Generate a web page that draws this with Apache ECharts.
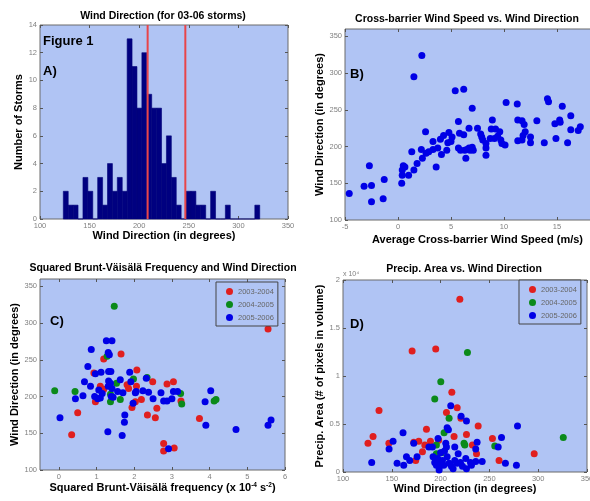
<!DOCTYPE html>
<html>
<head>
<meta charset="utf-8">
<script src="https://cdn.jsdelivr.net/npm/echarts@6/dist/echarts.min.js"></script>
<style>
  html, body { margin: 0; padding: 0; background: #fff; }
  #chart { width: 590px; height: 501px; }
</style>
</head>
<body>
<div id="chart"></div>
<script>
// A) histogram of wind direction, 5-degree bins
const histStart = 123.5
const histWidth = 4.95
const histCounts = [2,1,1,0,3,2,0,3,1,4,2,3,2,13,11,8,12,9,8,8,4,6,3,1,0,2,2,1,1,0,2,0,0,1,0,0,0,0,0,1]
const redLines = [208.5, 246.5]

// B) cross-barrier wind speed (m/s) vs wind direction (deg)
const speedDir = [
  [-4.6,136],[-3.2,146],[-2.5,147],[-2.7,174],[-2.5,125],[-1.3,155],[-1.4,129],
  [0.35,150],[0.4,161],[0.4,168],[0.5,174],[0.65,172],[1.0,161],[1.5,168],[1.3,193],[1.8,177],
  [1.5,295],[2.25,324],[2.3,184],[2.2,196],[2.6,220],[2.65,191],[2.9,193],[3.3,196],[3.3,207],
  [3.6,172],[3.75,198],[4.1,189],[4.0,210],[4.3,215],[4.6,195],[4.7,205],[4.8,219],[5.1,213],
  [5.0,207],[5.4,276],[6.2,278],[5.7,234],[5.8,218],[6.2,216],[5.7,198],[5.9,195],[6.3,195],
  [6.4,184],[6.7,198],[6.7,225],[7.0,252],[6.5,196],[6.8,195],[7.0,199],[7.1,195],[7.5,225],
  [7.8,217],[7.9,213],[8.0,209],[8.3,204],[8.3,198],[8.3,188],[8.7,211],[8.8,224],[8.9,236],
  [9.1,211],[9.2,224],[9.4,214],[9.6,220],[9.7,209],[9.8,204],[10.1,202],[10.2,260],[11.25,258],
  [11.3,208],[11.3,236],[11.7,235],[11.9,230],[12.0,220],[11.8,215],[11.7,209],[12.5,213],
  [12.5,205],[13.1,235],[13.8,205],[14.1,265],[14.2,261],[14.8,231],[14.9,211],[15.25,236],
  [15.3,233],[15.5,255],[16.0,205],[16.3,242],[16.3,223],[17.0,222],[17.2,227]
]

// C) squared Brunt-Vaisala frequency (x1e-4 s^-2) vs wind direction, by season
const bvRed = [
  [0.34,148],[0.5,178],[1.19,251],[1.65,258],[0.93,232],[1.1,214],[1.19,210],[0.97,193],
  [1.81,216],[1.85,211],[2.07,236],[2.06,214],[2.03,193],[1.94,185],[2.19,196],[2.49,220],
  [2.35,175],[2.56,171],[2.6,184],[2.78,136],[2.78,126],[2.87,217],[3.04,220],[3.24,194],
  [3.73,170],[5.55,292],[3.06,130]
]
const bvGreen = [
  [1.47,323],[-0.11,208],[0.43,207],[1.28,255],[1.37,203],[1.37,193],[1.63,196],[1.53,218],
  [1.98,224],[2.34,226],[3.23,204],[3.26,190],[4.12,194],[4.17,196]
]
const bvBlue = [
  [0.03,171],[0.44,197],[0.64,201],[0.68,220],[0.77,241],[0.86,264],[0.84,214],[0.97,231],
  [1.06,209],[1.03,197],[1.1,198],[1.12,233],[1.26,276],[1.41,276],[1.31,260],[1.34,257],
  [1.32,234],[1.38,234],[1.32,221],[1.37,218],[1.31,214],[1.41,211],[1.39,200],[1.44,199],
  [1.30,152],[1.56,207],[1.70,205],[1.63,223],[1.68,147],[1.75,175],[1.74,165],[1.88,233],
  [1.91,220],[1.97,191],[2.05,207],[2.03,205],[2.23,208],[2.32,225],[2.38,206],[2.5,197],
  [2.71,205],[2.78,194],[2.87,194],[3.0,197],[3.04,207],[3.15,207],[3.88,193],[3.9,161],
  [4.03,208],[4.70,155],[5.55,161],[5.63,168],[2.91,129],[0.95,200],[1.15,204]
]

// D) wind direction vs precip area (x1e4 pixels), by season
const paRed = [
  [219.7,1.80],[170.8,1.26],[195,1.28],[136.9,0.64],[211.5,0.83],[217,0.67],[206,0.62],
  [185.5,0.445],[213.8,0.37],[226.5,0.39],[238.5,0.48],[130.8,0.37],[125.6,0.30],[147,0.30],
  [177.6,0.32],[189.6,0.32],[183.8,0.28],[181.4,0.21],[174.5,0.12],[220.8,0.56],[253.1,0.35],
  [232.6,0.28],[236.8,0.19],[259.9,0.12],[295.9,0.19],[172.5,0.31],[198,0.33]
]
const paGreen = [
  [227.5,1.245],[200.2,0.94],[194,0.76],[208.7,0.56],[203.6,0.41],[224,0.30],[224.8,0.28],
  [195.7,0.28],[195.7,0.19],[255.5,0.27],[325.7,0.36],[201,0.2]
]
const paBlue = [
  [210.4,0.69],[221,0.58],[226.5,0.53],[206.7,0.46],[208,0.44],[161.5,0.41],[151.3,0.32],
  [147.2,0.24],[129.4,0.10],[155.4,0.09],[162.2,0.07],[165,0.16],[168.4,0.12],[172.5,0.30],
  [175.9,0.16],[188,0.26],[191.6,0.26],[197.4,0.35],[205.3,0.30],[206,0.26],[214.5,0.26],
  [218,0.19],[192.3,0.16],[194,0.10],[195.7,0.07],[198.5,0.05],[199.1,0.10],[201.9,0.12],
  [203.2,0.07],[206.7,0.16],[208.7,0.09],[211.1,0.06],[214.5,0.12],[216.9,0.09],[220.3,0.10],
  [222.4,0.06],[225.8,0.14],[230.6,0.10],[236,0.11],[198.5,0.02],[212.8,0.035],[226.5,0.035],
  [262.4,0.36],[278.8,0.48],[237.4,0.31],[236,0.24],[259,0.26],[266.4,0.09],[277.7,0.07],
  [242.6,0.11],[231.6,0.07],[200,0.2],[204,0.22],[197,0.14]
]

const seasons = ['2003-2004', '2004-2005', '2005-2006']
const dirTicks = [100, 150, 200, 250, 300, 350]
const bvTicks = [0, 1, 2, 3, 4, 5, 6]

const font = 'Liberation Sans, Arial, sans-serif'
const plotBg = '#b0c4f4'
const RED = '#e01f1f', GREEN = '#0b8a1a', BLUE = '#0000e6'

const chart = echarts.init(document.getElementById('chart'))

// one value axis; side axes (top/right) only carry the inward ticks
function axis(grid, pos, min, max, ticks, name, gap, main) {
  return {
    type: 'value', gridIndex: grid, position: pos, min: min, max: max,
    name: main ? name : '', nameLocation: 'middle', nameGap: gap,
    nameTextStyle: { fontFamily: font, fontWeight: 'bold', fontSize: 11, color: '#000' },
    axisLine: { show: false, onZero: false },
    axisTick: { show: true, inside: true, length: 3, customValues: ticks, lineStyle: { color: '#555' } },
    axisLabel: { show: main, customValues: ticks, margin: 3, fontFamily: font, fontSize: 7.5, color: '#808080' },
    splitLine: { show: false }
  }
}

const grids = [
  { left: 40, top: 25, width: 248, height: 194 },
  { left: 345, top: 29, width: 265, height: 191 },
  { left: 40, top: 279, width: 245, height: 191 },
  { left: 343, top: 280, width: 244, height: 192 }
].map(g => Object.assign(g, {
  show: true, backgroundColor: plotBg, borderColor: '#6a6a6a', borderWidth: 1,
  containLabel: false, outerBoundsMode: 'none'
}))

const xAxes = [
  axis(0, 'bottom', 100, 350, dirTicks, 'Wind Direction (in degrees)', 11, true),
  axis(0, 'top', 100, 350, dirTicks, '', 0, false),
  axis(1, 'bottom', -5, 20, [-5, 0, 5, 10, 15, 20], 'Average Cross-barrier Wind Speed (m/s)', 14, true),
  axis(1, 'top', -5, 20, [-5, 0, 5, 10, 15, 20], '', 0, false),
  axis(2, 'bottom', -0.5, 6, bvTicks, '{a|Squared Brunt-Väisälä frequency (x 10}{s|-4}{a| s}{s|-2}{a|)}', 9, true),
  axis(2, 'top', -0.5, 6, bvTicks, '', 0, false),
  axis(3, 'bottom', 100, 350, dirTicks, 'Wind Direction (in degrees)', 9, true),
  axis(3, 'top', 100, 350, dirTicks, '', 0, false)
]
xAxes[4].nameTextStyle.rich = {
  a: { fontFamily: font, fontWeight: 'bold', fontSize: 11, color: '#000' },
  s: { fontFamily: font, fontWeight: 'bold', fontSize: 6.5, color: '#000', verticalAlign: 'top', padding: [0, 0, 6, 0] }
}

const yAxes = [
  axis(0, 'left', 0, 14, [0, 2, 4, 6, 8, 10, 12, 14], 'Number of Storms', 15, true),
  axis(0, 'right', 0, 14, [0, 2, 4, 6, 8, 10, 12, 14], '', 0, false),
  axis(1, 'left', 100, 360, dirTicks, 'Wind Direction (in degrees)', 19, true),
  axis(1, 'right', 100, 360, dirTicks, '', 0, false),
  axis(2, 'left', 100, 360, dirTicks, 'Wind Direction (in degrees)', 19, true),
  axis(2, 'right', 100, 360, dirTicks, '', 0, false),
  axis(3, 'left', 0, 2, [0, 0.5, 1, 1.5, 2], 'Precip. Area (# of pixels in volume)', 11, true),
  axis(3, 'right', 0, 2, [0, 0.5, 1, 1.5, 2], '', 0, false)
]

function dots(name, data, color, idx) {
  return {
    type: 'scatter', name: name, xAxisIndex: idx, yAxisIndex: idx, data: data,
    symbolSize: 7, itemStyle: { color: color, opacity: 1 }, silent: true
  }
}

const series = [
  {
    type: 'custom', xAxisIndex: 0, yAxisIndex: 0,
    data: histCounts.map((c, i) => [histStart + i * histWidth, histStart + (i + 1) * histWidth, c]),
    encode: { x: [0, 1], y: 2 },
    renderItem(params, api) {
      const p0 = api.coord([api.value(0), api.value(2)])
      const p1 = api.coord([api.value(1), 0])
      return {
        type: 'rect',
        shape: { x: p0[0], y: p0[1], width: p1[0] - p0[0], height: p1[1] - p0[1] },
        style: { fill: '#000080', stroke: '#000078', lineWidth: 0.6 }
      }
    }
  }
]
redLines.forEach(v => series.push({
  type: 'line', xAxisIndex: 0, yAxisIndex: 0, data: [[v, 0], [v, 14]],
  symbol: 'none', lineStyle: { color: '#e8454a', width: 2 }, silent: true
}))
series.push(dots('B', speedDir, BLUE, 2))
series.push(dots(seasons[0], bvRed, RED, 4), dots(seasons[1], bvGreen, GREEN, 4), dots(seasons[2], bvBlue, BLUE, 4))
series.push(dots(seasons[0], paRed, RED, 6), dots(seasons[1], paGreen, GREEN, 6), dots(seasons[2], paBlue, BLUE, 6))

function legendAt(left, top) {
  return {
    data: seasons, left: left, top: top, orient: 'vertical', icon: 'circle',
    itemWidth: 7, itemHeight: 7, itemGap: 4, padding: [5, 4, 4, 10],
    borderColor: '#444', borderWidth: 1, backgroundColor: plotBg,
    textStyle: { fontFamily: font, fontSize: 7.5, color: '#666', lineHeight: 9 },
    selectedMode: false
  }
}

function label(x, y, text, size, align) {
  return {
    type: 'text', x: x, y: y, silent: true,
    style: { text: text, font: 'bold ' + size + 'px ' + font, fill: '#000', textAlign: align, textVerticalAlign: 'middle' }
  }
}

chart.setOption({
  animation: false,
  grid: grids,
  xAxis: xAxes,
  yAxis: yAxes,
  legend: [legendAt(216, 282), legendAt(519, 280)],
  series: series,
  graphic: [
    label(163, 16, 'Wind Direction (for 03-06 storms)', 10.5, 'center'),
    label(467, 19, 'Cross-barrier Wind Speed vs. Wind Direction', 10.5, 'center'),
    label(163, 268, 'Squared Brunt-Väisälä Frequency and Wind Direction', 10.5, 'center'),
    label(464, 269, 'Precip. Area vs. Wind Direction', 10.5, 'center'),
    label(43, 41, 'Figure 1', 13, 'left'),
    label(43, 71, 'A)', 13, 'left'),
    label(350, 74, 'B)', 13, 'left'),
    label(50, 321, 'C)', 13, 'left'),
    label(350, 324, 'D)', 13, 'left'),
    {
      type: 'text', x: 343, y: 274, silent: true,
      style: { text: 'x 10⁴', font: '7px ' + font, fill: '#808080', textAlign: 'left', textVerticalAlign: 'middle' }
    }
  ]
})
</script>
</body>
</html>
